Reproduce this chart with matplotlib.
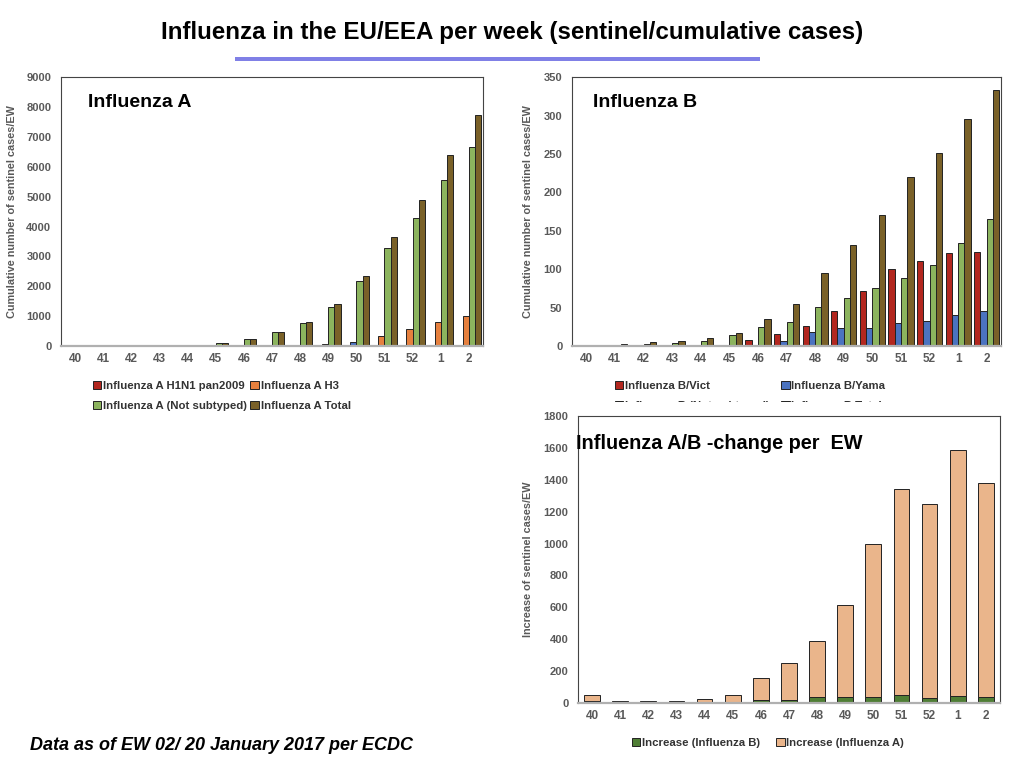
import matplotlib
matplotlib.use('Agg')
import matplotlib.pyplot as plt
import numpy as np
from matplotlib.patches import Rectangle

weeks = ['40', '41', '42', '43', '44', '45', '46', '47', '48', '49', '50', '51', '52', '1', '2']

# Influenza A, cumulative
a_h1n1 = [0, 5, 5, 5, 5, 5, 10, 15, 15, 20, 25, 25, 30, 30, 35]
a_h3 = [0, 5, 5, 5, 5, 5, 5, 10, 10, 50, 140, 335, 560, 805, 1020]
a_notsub = [0, 10, 10, 12, 15, 95, 235, 455, 780, 1290, 2170, 3270, 4280, 5545, 6675]
a_total = [0, 20, 20, 22, 25, 105, 250, 480, 805, 1400, 2350, 3640, 4880, 6395, 7750]

# Influenza B, cumulative
b_vict = [0, 0, 0, 0, 0, 0, 8, 16, 26, 46, 72, 100, 111, 121, 122]
b_yama = [0, 0, 0, 0, 0, 0, 1, 6, 18, 23, 23, 30, 33, 40, 46]
b_notsub = [0, 1, 2, 4, 6, 14, 25, 31, 51, 62, 76, 89, 106, 134, 165]
b_total = [1, 2, 5, 7, 10, 17, 35, 55, 95, 132, 171, 220, 251, 296, 333]

# change per week
inc_b = [10, 1, 3, 2, 3, 7, 18, 20, 40, 37, 39, 49, 31, 45, 37]
inc_a = [42, 9, 12, 13, 24, 45, 141, 228, 350, 575, 961, 1292, 1215, 1542, 1345]

RED = '#b3271f'
ORANGE = '#e6803e'
GREEN = '#8cb45e'
OLIVE = '#7a6128'
BLUE = '#4b73c0'
DKGREEN = '#4f7e35'
TAN = '#eab58b'
GREY = '#595959'

plt.rcParams['font.family'] = ['Liberation Sans', 'DejaVu Sans']
plt.rcParams['font.weight'] = 'bold'

fig = plt.figure(figsize=(10.24, 7.68), dpi=100)
fig.patch.set_facecolor('white')


def style(ax, ymax, ystep, ylabel, labx):
    ax.set_xlim(-0.5, len(weeks) - 0.5)
    ax.set_ylim(0, ymax)
    ax.set_yticks(np.arange(0, ymax + 1, ystep))
    ax.set_xticks(np.arange(len(weeks)))
    ax.set_xticklabels(weeks)
    ax.tick_params(axis='y', length=0, pad=7, labelsize=8, labelcolor=GREY)
    ax.tick_params(axis='x', length=0, pad=5, labelsize=8.5, labelcolor=GREY)
    for lab in ax.get_xticklabels() + ax.get_yticklabels():
        lab.set_fontweight('bold')
    for s in ['left', 'top', 'right']:
        ax.spines[s].set_color('#444444')
        ax.spines[s].set_linewidth(0.8)
    ax.spines['bottom'].set_color('#b0b0b0')
    ax.spines['bottom'].set_linewidth(1.6)
    ax.set_ylabel(ylabel, fontsize=7.8, color=GREY, fontweight='bold')
    ax.yaxis.set_label_coords(labx, 0.5)


x = np.arange(len(weeks))
w = 0.22
LEG = dict(frameon=False, prop={'size': 8.2, 'weight': 'bold'}, handlelength=0.75,
           handleheight=0.75, handletextpad=0.15, borderpad=0)

# ---- Influenza A
axA = fig.add_axes([0.0596, 0.5495, 0.412, 0.350])
h3_colors = [ORANGE] * len(weeks)
h3_colors[10] = BLUE
b1 = axA.bar(x - 1.5 * w, a_h1n1, w, color=RED, edgecolor='#222222', linewidth=0.7)
b2 = axA.bar(x - 0.5 * w, a_h3, w, color=h3_colors, edgecolor='#222222', linewidth=0.7)
b3 = axA.bar(x + 0.5 * w, a_notsub, w, color=GREEN, edgecolor='#222222', linewidth=0.7)
b4 = axA.bar(x + 1.5 * w, a_total, w, color=OLIVE, edgecolor='#222222', linewidth=0.7)
style(axA, 9000, 1000, 'Cumulative number of sentinel cases/EW', -0.104)
axA.text(0.063, 0.905, 'Influenza A', transform=axA.transAxes, fontsize=14,
         fontweight='bold', va='center', ha='left')
legA = axA.legend([b1, b3, b2, b4],
                  ['Influenza A H1N1 pan2009', 'Influenza A (Not subtyped)',
                   'Influenza A H3', 'Influenza A Total'],
                  ncol=2, loc='upper left', bbox_to_anchor=(87 / 1024, 1 - 375 / 768),
                  bbox_transform=fig.transFigure, columnspacing=0.3,
                  labelspacing=0.9, **LEG)
for t in legA.get_texts():
    t.set_color('#333333')
legA.legend_handles[2].set_facecolor(ORANGE)

# ---- Influenza B
axB = fig.add_axes([0.5586, 0.5495, 0.419, 0.350])
c1 = axB.bar(x - 1.5 * w, b_vict, w, color=RED, edgecolor='#222222', linewidth=0.7)
c2 = axB.bar(x - 0.5 * w, b_yama, w, color=BLUE, edgecolor='#222222', linewidth=0.7)
c3 = axB.bar(x + 0.5 * w, b_notsub, w, color=GREEN, edgecolor='#222222', linewidth=0.7)
c4 = axB.bar(x + 1.5 * w, b_total, w, color=OLIVE, edgecolor='#222222', linewidth=0.7)
style(axB, 350, 50, 'Cumulative number of sentinel cases/EW', -0.091)
axB.text(0.05, 0.905, 'Influenza B', transform=axB.transAxes, fontsize=14,
         fontweight='bold', va='center', ha='left')
legB = axB.legend([c1, c3, c2, c4],
                  ['Influenza B/Vict', 'Influenza B (Not subtyped)',
                   'Influenza B/Yama', 'Influenza B Total'],
                  ncol=2, loc='upper left', bbox_to_anchor=(609 / 1024, 1 - 375 / 768),
                  bbox_transform=fig.transFigure, columnspacing=1.0,
                  labelspacing=0.9, **LEG)
for t in legB.get_texts():
    t.set_color('#333333')

# white panel of the lower chart hides the rest of legend B
fig.patches.append(Rectangle((510 / 1024, 0), 514 / 1024, 1 - 402 / 768,
                             transform=fig.transFigure, facecolor='white',
                             edgecolor='none', zorder=1))

# ---- change per EW
axC = fig.add_axes([0.5645, 0.0846, 0.412, 0.3737], zorder=2)
d1 = axC.bar(x, inc_b, 0.56, color=DKGREEN, edgecolor='#222222', linewidth=0.7)
d2 = axC.bar(x, inc_a, 0.56, bottom=inc_b, color=TAN, edgecolor='#222222', linewidth=0.7)
style(axC, 1800, 200, 'Increase of sentinel cases/EW', -0.107)
axC.text(-0.005, 0.905, 'Influenza A/B -change per  EW', transform=axC.transAxes,
         fontsize=14.3, fontweight='bold', va='center', ha='left')
legC = axC.legend([d1, d2], ['Increase (Influenza B)', 'Increase (Influenza A)'],
                  ncol=2, loc='upper left', bbox_to_anchor=(626 / 1024, 1 - 732 / 768),
                  bbox_transform=fig.transFigure, columnspacing=1.4, **LEG)
for t in legC.get_texts():
    t.set_color('#333333')

# ---- slide title and footnote
fig.text(0.5, 1 - 33 / 768, 'Influenza in the EU/EEA per week (sentinel/cumulative cases)',
         ha='center', va='center', fontsize=17.4, fontweight='bold')
fig.patches.append(Rectangle((235 / 1024, 1 - 61 / 768), 525 / 1024, 4 / 768,
                             transform=fig.transFigure, facecolor='#8080e6',
                             edgecolor='none'))
fig.text(30 / 1024, 1 - 745 / 768, 'Data as of EW 02/ 20 January 2017 per ECDC',
         ha='left', va='center', fontsize=13, fontweight='bold', style='italic')

fig.savefig('out.png', dpi=100)
